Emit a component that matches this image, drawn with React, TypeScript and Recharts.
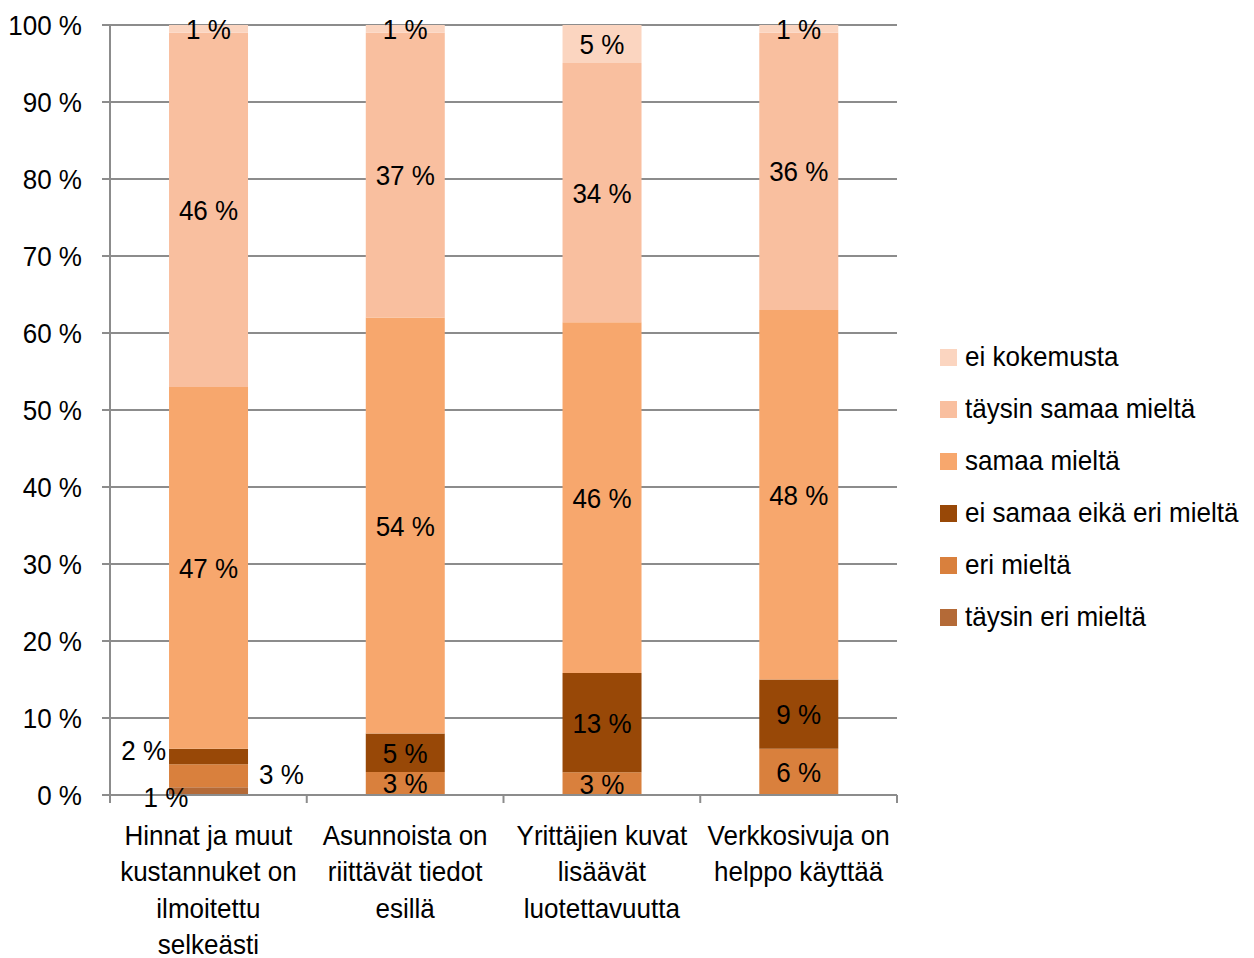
import React from 'react';
import { BarChart, Bar, XAxis, YAxis, CartesianGrid } from 'recharts';

const categories = [
  'Hinnat ja muut\nkustannuket on\nilmoitettu\nselkeästi',
  'Asunnoista on\nriittävät tiedot\nesillä',
  'Yrittäjien kuvat\nlisäävät\nluotettavuutta',
  'Verkkosivuja on\nhelppo käyttää',
];

const taysinEri = [1, 0, 0, 0];
const eri = [3, 3, 3, 6];
const eiSamaaEikaEri = [2, 5, 13, 9];
const samaa = [47, 54, 46, 48];
const taysinSamaa = [46, 37, 34, 36];
const eiKokemusta = [1, 1, 5, 1];

const yTicks = [0, 0.1, 0.2, 0.3, 0.4, 0.5, 0.6, 0.7, 0.8, 0.9, 1];

const series = [
  { key: 'taysinEri', name: 'täysin eri mieltä', values: taysinEri, color: '#B46A37' },
  { key: 'eri', name: 'eri mieltä', values: eri, color: '#D9803D' },
  { key: 'eiSamaa', name: 'ei samaa eikä eri mieltä', values: eiSamaaEikaEri, color: '#984807' },
  { key: 'samaa', name: 'samaa mieltä', values: samaa, color: '#F7A76D' },
  { key: 'taysinSamaa', name: 'täysin samaa mieltä', values: taysinSamaa, color: '#F9BF9F' },
  { key: 'eiKokemusta', name: 'ei kokemusta', values: eiKokemusta, color: '#FBD5C0' },
];

const data = categories.map((cat, i) => {
  const row: Record<string, any> = { cat };
  series.forEach((s) => (row[s.key] = s.values[i]));
  return row;
});

const FONT = '"Liberation Sans", Arial, sans-serif';
const GRID = '#8c8c8c';
const SX = 0.93; // narrow the font a bit, like Arial Narrow

// condensed svg text
const CText = ({ x, y, anchor = 'middle', children }: any) => (
  <text
    transform={`translate(${x} ${y}) scale(${SX} 1)`}
    x={0}
    y={0}
    textAnchor={anchor}
    fontSize={28}
    fill="#000"
    fontFamily={FONT}
  >
    {children}
  </text>
);

const makeLabel = (key: string, values: number[]) => (props: any) => {
  const { x, y, width, height, index } = props;
  const v = values[index];
  if (!v) return null;
  const cx = x + width / 2;
  const cy = y + height / 2;
  let tx = cx;
  let ty = cy;
  let anchor = 'middle';
  if (index === 0 && key === 'taysinEri') {
    tx = x - 3;
    ty = y + height + 2;
  } else if (index === 0 && key === 'eri') {
    tx = x + width + 11;
    ty = cy - 2;
    anchor = 'start';
  } else if (index === 0 && key === 'eiSamaa') {
    tx = x - 3;
    ty = cy - 7;
    anchor = 'end';
  }
  return <CText x={tx} y={ty + 10} anchor={anchor}>{`${v} %`}</CText>;
};

const XTick = (props: any) => {
  const { x, y, payload, index } = props;
  const off = payload && payload.offset ? payload.offset : 98.4;
  const lines = String(payload.value).split('\n');
  return (
    <g>
      <line x1={x - off} y1={y} x2={x - off} y2={y + 8} stroke={GRID} strokeWidth={2} />
      {index === categories.length - 1 && (
        <line x1={x + off} y1={y} x2={x + off} y2={y + 8} stroke={GRID} strokeWidth={2} />
      )}
      {lines.map((l, i) => (
        <CText key={i} x={x} y={y + 50 + i * 36.3}>
          {l}
        </CText>
      ))}
    </g>
  );
};

const YTick = (props: any) => {
  const { x, y, payload } = props;
  return <CText x={x} y={y + 10} anchor="end">{`${Math.round(payload.value * 100)} %`}</CText>;
};

export default function App() {
  return (
    <div style={{ position: 'relative', width: 1238, height: 950, fontFamily: FONT }}>
      <BarChart
        width={1238}
        height={950}
        data={data}
        stackOffset="expand"
        barCategoryGap="30%"
        margin={{ top: 17, right: 349, left: 2, bottom: 5 }}
      >
        <CartesianGrid vertical={false} stroke={GRID} strokeWidth={2} />
        <XAxis
          dataKey="cat"
          axisLine={{ stroke: GRID, strokeWidth: 2 }}
          tickLine={false}
          tickSize={0}
          tickMargin={0}
          height={158}
          interval={0}
          tick={<XTick />}
        />
        <YAxis
          width={100}
          domain={[0, 1]}
          ticks={yTicks}
          interval={0}
          axisLine={{ stroke: GRID, strokeWidth: 2 }}
          tickLine={{ stroke: GRID, strokeWidth: 2 }}
          tickSize={8}
          tickMargin={20}
          tick={<YTick />}
        />
        {series.map((s) => (
          <Bar
            key={s.key}
            dataKey={s.key}
            name={s.name}
            stackId="a"
            fill={s.color}
            isAnimationActive={false}
            label={makeLabel(s.key, s.values)}
          />
        ))}
      </BarChart>
      <div style={{ position: 'absolute', left: 932, top: 323 }}>
        {[...series].reverse().map((s) => (
          <div key={s.key} style={{ display: 'flex', alignItems: 'center', height: 52 }}>
            <span style={{ width: 17, height: 17, background: s.color, marginRight: 8, display: 'inline-block', flex: 'none' }} />
            <span
              style={{
                fontSize: 28,
                color: '#000',
                whiteSpace: 'nowrap',
                display: 'inline-block',
                transform: `scaleX(${SX})`,
                transformOrigin: 'left center',
              }}
            >
              {s.name}
            </span>
          </div>
        ))}
      </div>
    </div>
  );
}
